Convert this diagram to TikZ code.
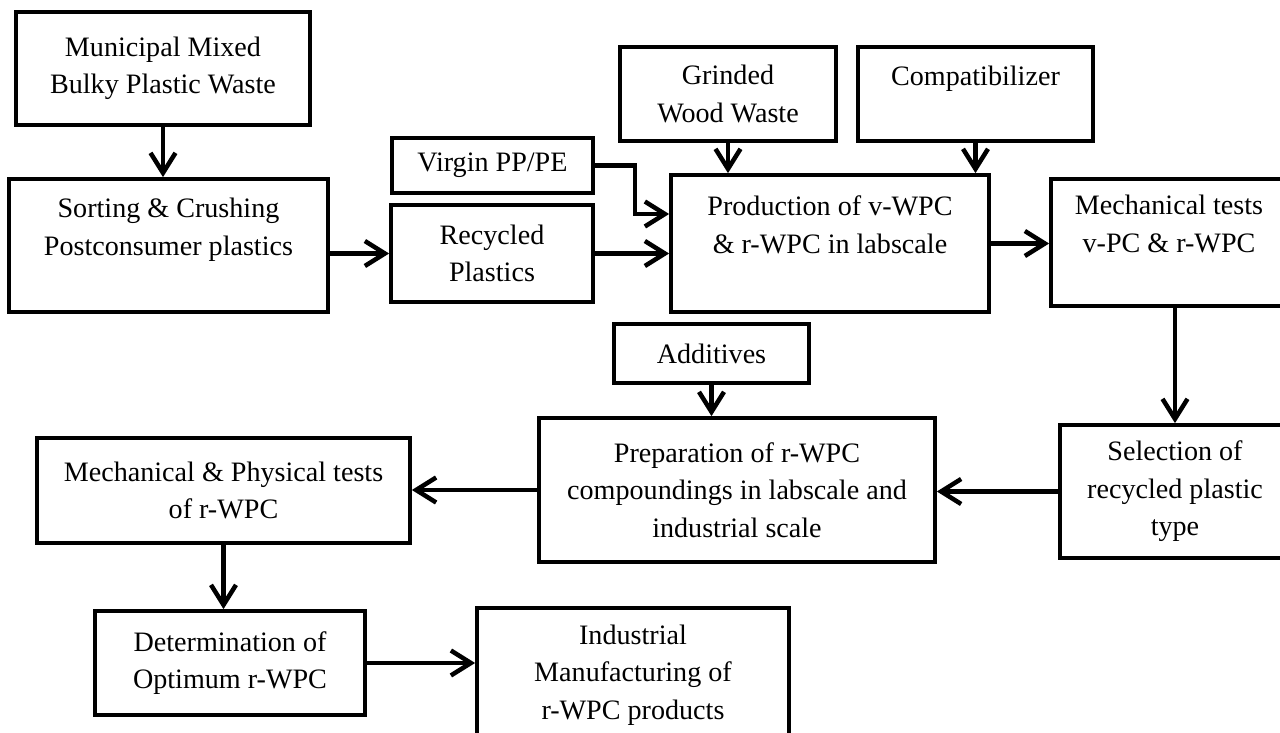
\documentclass[tikz,border=0pt]{standalone}
\usepackage{fontspec}
\setmainfont{Liberation Serif}
\usepackage{xcolor}
\usepackage{tikz}
\usetikzlibrary{positioning, arrows.meta, calc}
\tikzset{
  stepbox/.style={draw=black, line width=0.75mm, align=center, inner sep=2pt,
    font=\fontsize{16}{21.3}\selectfont},
  flowarrow/.style={line width=0.9mm, -{Straight Barb[length=4mm, width=5mm]}}
}

\begin{document}
\begin{tikzpicture}[x=0.2mm, y=-0.2mm]
  \useasboundingbox (0,0) rectangle (1280,733);

  % upper part
  \node[stepbox, minimum width=58.8mm, minimum height=22.6mm] (mun) at (163,68.5)
    {Municipal Mixed\\Bulky Plastic Waste};
  \node[stepbox, minimum width=63.8mm, minimum height=26.6mm] (sort) at (168.5,245.5)
    {Sorting \& Crushing\\Postconsumer plastics\\~};
  \node[stepbox, minimum width=40.2mm, minimum height=11mm] (virgin) at (492.5,165.5)
    {Virgin PP/PE};
  \node[stepbox, minimum width=40.4mm, minimum height=19.4mm] (recyc) at (492,253.5)
    {Recycled\\Plastics};
  \node[stepbox, minimum width=43.2mm, minimum height=18.8mm] (wood) at (728,94)
    {Grinded\\Wood Waste};
  \node[stepbox, minimum width=47mm, minimum height=18.8mm] (compat) at (975.5,94)
    {Compatibilizer\\~};
  \node[stepbox, minimum width=63.6mm, minimum height=27.4mm] (prod) at (830,243.5)
    {Production of v-WPC\\\& r-WPC in labscale\\~};
  \node[stepbox, minimum width=47.2mm, minimum height=25.4mm] (mtest) at (1169,242.5)
    {Mechanical tests\\v-PC \& r-WPC\\~};

  % lower part
  \node[stepbox, minimum width=39mm, minimum height=11.8mm] (addit) at (711.5,353.5)
    {Additives};
  \node[stepbox, minimum width=79.2mm, minimum height=28.8mm] (prep) at (737,490)
    {Preparation of r-WPC\\compoundings in labscale and\\industrial scale};
  \node[stepbox, minimum width=46mm, minimum height=26.6mm] (select) at (1175,491.5)
    {Selection of\\recycled plastic\\type};
  \node[stepbox, minimum width=74.6mm, minimum height=21mm] (mphys) at (223.5,490.5)
    {Mechanical \& Physical tests\\of r-WPC};
  \node[stepbox, minimum width=54mm, minimum height=20.8mm] (determ) at (230,663)
    {Determination of\\Optimum r-WPC};
  \node[stepbox, minimum width=62.4mm, minimum height=26.8mm] (indus) at (633,675)
    {Industrial\\Manufacturing of\\r-WPC products};

  % arrows
  \draw[flowarrow] (mun.south) -- (mun.south |- sort.north);
  \draw[flowarrow] (recyc.west -| sort.east) -- (recyc.west);
  \draw[flowarrow] (virgin.east) -- ++(40,0) |- (prod.west |- 0,214);
  \draw[flowarrow] (recyc.east) -- (recyc.east -| prod.west);
  \draw[flowarrow] (wood.south) -- (wood.south |- prod.north);
  \draw[flowarrow] (compat.south) -- (compat.south |- prod.north);
  \draw[flowarrow] (prod.east) -- (prod.east -| mtest.west);
  \draw[flowarrow] (mtest.south -| select) -- (select.north);
  \draw[flowarrow] (addit.south) -- (addit.south |- prep.north);
  \draw[flowarrow] (select.west) -- (select.west -| prep.east);
  \draw[flowarrow] (prep.west) -- (prep.west -| mphys.east);
  \draw[flowarrow] (mphys.south) -- (mphys.south |- determ.north);
  \draw[flowarrow] (determ.east) -- (determ.east -| indus.west);
\end{tikzpicture}
\end{document}
